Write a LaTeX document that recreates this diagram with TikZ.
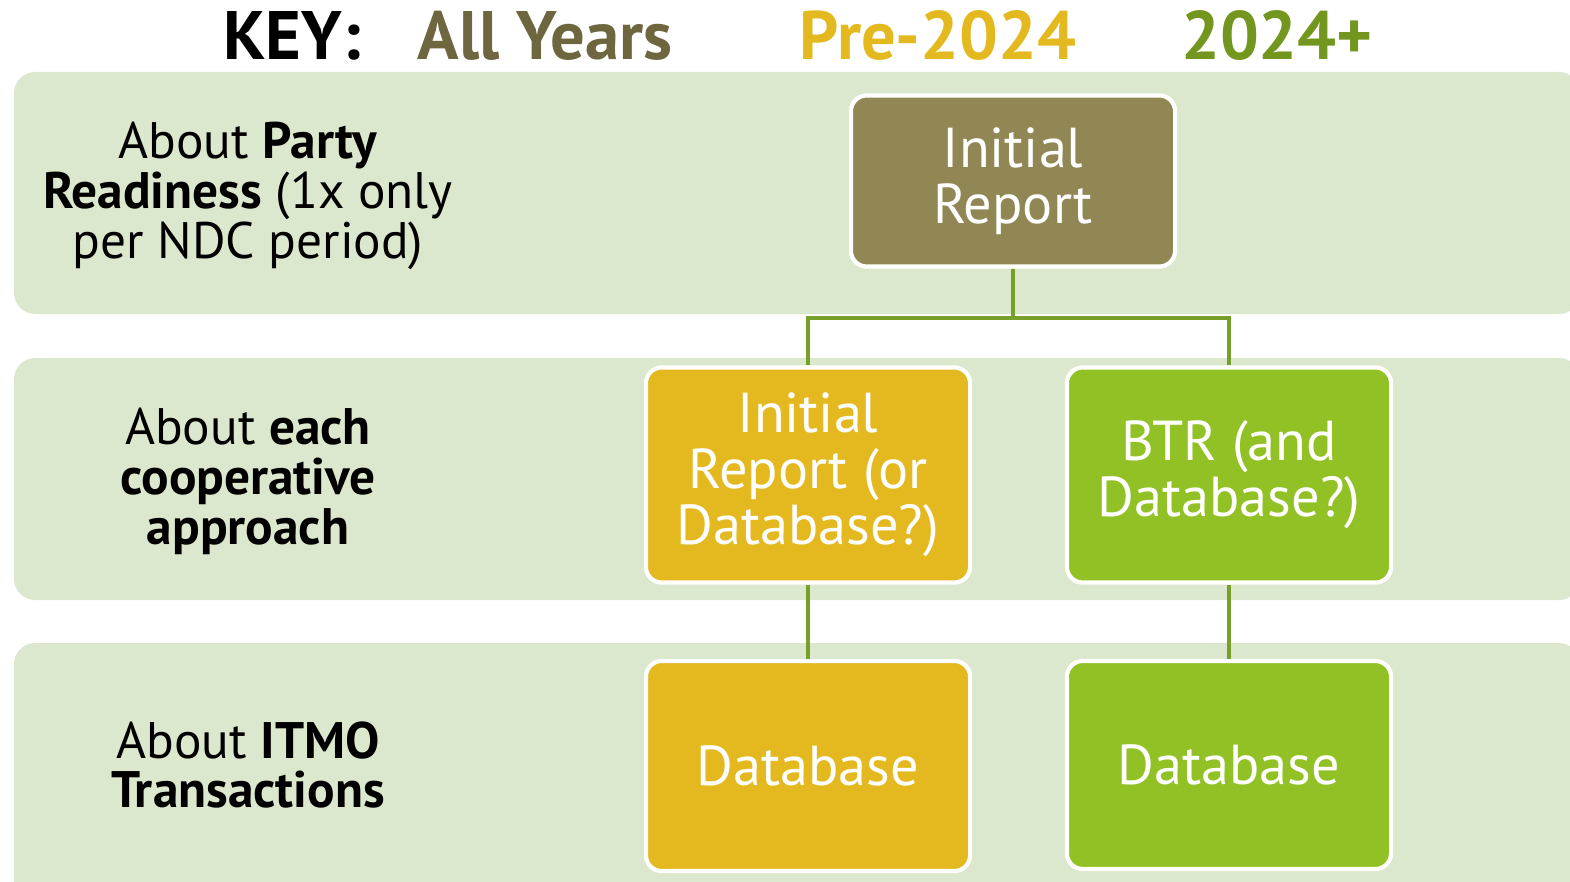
\documentclass[tikz,border=0pt]{standalone}
\usepackage{fontspec}
\setmainfont{PT Sans}
\usepackage{tikz}
\usetikzlibrary{positioning, calc}
\usepackage{xcolor}
\definecolor{bandgreen}{RGB}{220, 232, 205}
\definecolor{allyears}{RGB}{145, 135, 85}
\definecolor{allyearstext}{RGB}{110, 102, 62}
\definecolor{pregold}{RGB}{228, 185, 32}
\definecolor{postgreen}{RGB}{146, 193, 38}
\definecolor{postgreentext}{RGB}{115, 150, 30}
\definecolor{linkgreen}{RGB}{120, 160, 40}
\tikzstyle{keytext} = [font=\fontsize{19.5}{20}\selectfont\bfseries, anchor=base]
\tikzstyle{rowlabel} = [align=center, font=\fontsize{14.6}{14.2}\selectfont]
\tikzstyle{box} = [draw=white, line width=1.2pt, rounded corners=4.5pt, minimum width=3.24cm, text=white, align=center, font=\fontsize{16}{16}\selectfont]
\tikzstyle{link} = [line width=0.9pt, linkgreen]

\begin{document}
\begin{tikzpicture}[x=0.01cm, y=-0.01cm]
\clip (0,0) rectangle (1570,882);
% Key
\node[keytext] (key) at (292,60) {KEY:};
\node[keytext, text=allyearstext] (keyall) at (545,60) {All Years};
\node[keytext, text=pregold] (keypre) at (938,60) {Pre-2024};
\node[keytext, text=postgreentext] (keypost) at (1277,60) {2024+};

% Bands
\foreach \top/\bot in {72/314, 358/600, 643/920} {
    \fill[bandgreen, rounded corners=6pt] (14,\top) rectangle (1580,\bot);
}

% Row labels
\node[rowlabel] (rowparty) at (248,196) {About \textbf{Party}\\\textbf{Readiness} (1x only\\per NDC period)};
\node[rowlabel] (rowcoop) at (248,481) {About \textbf{each}\\\textbf{cooperative}\\\textbf{approach}};
\node[rowlabel] (rowitmo) at (248,765) {About \textbf{ITMO}\\\textbf{Transactions}};

% Boxes
\node[box, fill=allyears, minimum height=1.71cm] (initrep) at (1013,181) {Initial\\Report};
\node[box, fill=pregold, minimum height=2.15cm] (prerep) at (808,475) {Initial\\Report (or\\Database?)};
\node[box, fill=postgreen, minimum height=2.15cm] (btr) at (1229,475) {BTR (and\\Database?)};
\node[box, fill=pregold, minimum height=2.10cm] (predb) at (808,766) {Database};
\node[box, fill=postgreen, minimum height=2.08cm] (postdb) at (1229,765) {Database};

% Connectors
\coordinate (fork) at (1013,318);
\draw[link] (initrep.south) -- (fork);
\draw[link] (prerep.north) |- (fork) -| (btr.north);
\draw[link] (prerep.south) -- (predb.north);
\draw[link] (btr.south) -- (postdb.north);
\end{tikzpicture}
\end{document}
